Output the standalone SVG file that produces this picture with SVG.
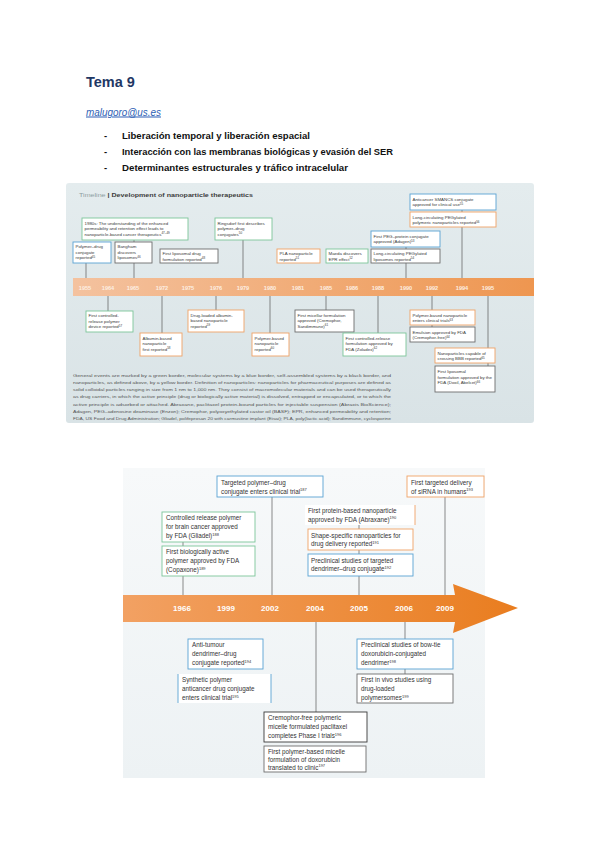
<svg xmlns="http://www.w3.org/2000/svg" width="599" height="848" viewBox="0 0 599 848">
<defs>
<linearGradient id="bg1" x1="0" y1="0" x2="0" y2="1"><stop offset="0" stop-color="#e4ecee"/><stop offset="1" stop-color="#d9e3e6"/></linearGradient>
<linearGradient id="bar1" x1="0" y1="0" x2="1" y2="0"><stop offset="0" stop-color="#f4c29f"/><stop offset="1" stop-color="#ee9650"/></linearGradient>
<linearGradient id="bg2" x1="0" y1="0" x2="0" y2="1"><stop offset="0" stop-color="#f7f9fa"/><stop offset="1" stop-color="#edf2f4"/></linearGradient>
<linearGradient id="bar2" x1="0" y1="0" x2="1" y2="0"><stop offset="0" stop-color="#f2a163"/><stop offset="1" stop-color="#e97d1f"/></linearGradient>
</defs>
<style>
.f{font-family:'Liberation Sans',Arial,sans-serif}
.box{fill:#fff;stroke-width:0.9}
.blue{stroke:#5aa3d3}
.green{stroke:#7cc59a}
.orange{stroke:#f0a266}
.gray{stroke:#6e6e6e}
.dark{stroke:#3a3a3a}
.t1{font-family:'Liberation Sans',Arial,sans-serif;font-size:4.4px;fill:#3a3a3a}
.t2{font-family:'Liberation Sans',Arial,sans-serif;font-size:6.3px;fill:#333}
.y1{font-family:'Liberation Sans',Arial,sans-serif;font-size:5.6px;font-weight:bold;fill:#fdeee2;text-anchor:middle}
.y2{font-family:'Liberation Sans',Arial,sans-serif;font-size:8px;font-weight:bold;fill:#fff;text-anchor:middle}
.cap{font-family:'Liberation Sans',Arial,sans-serif;font-size:4.3px;fill:#555}
.conn line{stroke:#5a5a5a;stroke-width:0.7}
.hd{font-family:'Liberation Sans',Arial,sans-serif;font-weight:bold;font-size:9.5px;fill:#111}
</style>
<rect width="599" height="848" fill="#fff"/>

<g id="header">
<text class="f" x="86" y="87" font-size="14.5" font-weight="bold" fill="#1f3864">Tema 9</text>
<text class="f" x="86" y="115.5" font-size="10" font-style="italic" fill="#2e5fb5" text-decoration="underline" textLength="75" lengthAdjust="spacingAndGlyphs">malugoro@us.es</text>
<text class="hd" x="104" y="138.5">-</text>
<text class="hd" x="122" y="138.5" textLength="188" lengthAdjust="spacingAndGlyphs">Liberación temporal y liberación espacial</text>
<text class="hd" x="104" y="154.5">-</text>
<text class="hd" x="122" y="154.5" textLength="271" lengthAdjust="spacingAndGlyphs">Interacción con las membranas biológicas y evasión del SER</text>
<text class="hd" x="104" y="170.5">-</text>
<text class="hd" x="122" y="170.5" textLength="226" lengthAdjust="spacingAndGlyphs">Determinantes estructurales y tráfico intracelular</text>
</g>

<g id="figure1">
<rect x="66" y="183" width="468" height="240" rx="3" fill="url(#bg1)"/>
<text class="f" x="79" y="197" font-size="6" textLength="174" lengthAdjust="spacingAndGlyphs"><tspan fill="#8c9ca2">Timeline</tspan><tspan fill="#3c3c3c" font-weight="bold"> | Development of nanoparticle therapeutics</tspan></text>
<rect x="73" y="278" width="461" height="18" fill="url(#bar1)"/>
<g id="years1">
<text class="y1" x="85" y="289.5">1955</text>
<text class="y1" x="108" y="289.5">1964</text>
<text class="y1" x="133" y="289.5">1965</text>
<text class="y1" x="162" y="289.5">1972</text>
<text class="y1" x="188" y="289.5">1975</text>
<text class="y1" x="216" y="289.5">1976</text>
<text class="y1" x="243" y="289.5">1979</text>
<text class="y1" x="270" y="289.5">1980</text>
<text class="y1" x="298" y="289.5">1981</text>
<text class="y1" x="326" y="289.5">1985</text>
<text class="y1" x="352" y="289.5">1986</text>
<text class="y1" x="378" y="289.5">1988</text>
<text class="y1" x="406" y="289.5">1990</text>
<text class="y1" x="432" y="289.5">1992</text>
<text class="y1" x="462" y="289.5">1994</text>
<text class="y1" x="488" y="289.5">1995</text>
</g>

<g class="conn" id="connectors1">
<line x1="86" y1="263" x2="86" y2="278"/>
<line x1="134" y1="240" x2="134" y2="242"/>
<line x1="134" y1="263" x2="134" y2="278"/>
<line x1="243" y1="240" x2="243" y2="278"/>
<line x1="406" y1="247" x2="406" y2="249"/>
<line x1="406" y1="263" x2="406" y2="278"/>
<line x1="462" y1="210" x2="462" y2="212"/>
<line x1="462" y1="227" x2="462" y2="278"/>
<line x1="108" y1="296" x2="108" y2="311"/>
<line x1="162" y1="296" x2="162" y2="333"/>
<line x1="216" y1="296" x2="216" y2="310"/>
<line x1="270" y1="296" x2="270" y2="333"/>
<line x1="326" y1="296" x2="326" y2="310"/>
<line x1="378" y1="296" x2="378" y2="333"/>
<line x1="432" y1="296" x2="432" y2="310"/>
<line x1="432" y1="325" x2="432" y2="327"/>
<line x1="488" y1="296" x2="488" y2="348"/>
<line x1="488" y1="363" x2="488" y2="366"/>
</g>

<g id="n1955"><rect class="box blue" x="73" y="242" width="38" height="21"/>
<text class="t1" x="75.5" y="248">Polymer–drug</text><text class="t1" x="75.5" y="253.5">conjugate</text><text class="t1" x="75.5" y="259">reported<tspan font-size="3" dy="-1.5">45</tspan></text></g>
<g id="n1980s"><rect class="box green" x="82" y="218" width="106" height="22"/>
<text class="t1" x="84.5" y="224.5">1980s: The understanding of the enhanced</text><text class="t1" x="84.5" y="230">permeability and retention effect leads to</text><text class="t1" x="84.5" y="235.5">nanoparticle-based cancer therapeutics<tspan font-size="3" dy="-1.5">47–49</tspan></text></g>
<g id="n1965"><rect class="box gray" x="115" y="242" width="37" height="21"/>
<text class="t1" x="117.5" y="248">Bangham</text><text class="t1" x="117.5" y="253.5">discovers</text><text class="t1" x="117.5" y="259">liposomes<tspan font-size="3" dy="-1.5">46</tspan></text></g>
<g id="n1975a"><rect class="box gray" x="160" y="249" width="58" height="14"/>
<text class="t1" x="162.5" y="255">First liposomal drug</text><text class="t1" x="162.5" y="260.5">formulation reported<tspan font-size="3" dy="-1.5">48</tspan></text></g>
<g id="n1979"><rect class="box green" x="215" y="218" width="57" height="22"/>
<text class="t1" x="217.5" y="224.5">Ringsdorf first describes</text><text class="t1" x="217.5" y="230">polymer–drug</text><text class="t1" x="217.5" y="235.5">conjugates<tspan font-size="3" dy="-1.5">50</tspan></text></g>
<g id="n1981"><rect class="box orange" x="277" y="249" width="43" height="14"/>
<text class="t1" x="279.5" y="255">PLA nanoparticle</text><text class="t1" x="279.5" y="260.5">reported<tspan font-size="3" dy="-1.5">51</tspan></text></g>
<g id="n1986"><rect class="box green" x="326" y="249" width="42" height="14"/>
<text class="t1" x="328.5" y="255">Maeda discovers</text><text class="t1" x="328.5" y="260.5">EPR effect<tspan font-size="3" dy="-1.5">52</tspan></text></g>
<g id="n1990a"><rect class="box blue" x="371" y="231" width="69" height="16"/>
<text class="t1" x="373.5" y="237.5">First PEG–protein conjugate</text><text class="t1" x="373.5" y="243">approved (Adagen)<tspan font-size="3" dy="-1.5">53</tspan></text></g>
<g id="n1990b"><rect class="box gray" x="371" y="249" width="69" height="14"/>
<text class="t1" x="373.5" y="255">Long-circulating PEGylated</text><text class="t1" x="373.5" y="260.5">liposomes reported<tspan font-size="3" dy="-1.5">54</tspan></text></g>
<g id="n1994a"><rect class="box blue" x="410" y="194" width="86" height="16"/>
<text class="t1" x="412.5" y="200.5">Anticancer SMANCS conjugate</text><text class="t1" x="412.5" y="206">approved for clinical use<tspan font-size="3" dy="-1.5">55</tspan></text></g>
<g id="n1994b"><rect class="box orange" x="410" y="212" width="86" height="15"/>
<text class="t1" x="412.5" y="218.5">Long-circulating PEGylated</text><text class="t1" x="412.5" y="224">polymeric nanoparticles reported<tspan font-size="3" dy="-1.5">56</tspan></text></g>

<g id="n1964"><rect class="box green" x="86" y="311" width="47" height="21"/>
<text class="t1" x="88.5" y="317">First controlled-</text><text class="t1" x="88.5" y="322.5">release polymer</text><text class="t1" x="88.5" y="328">device reported<tspan font-size="3" dy="-1.5">57</tspan></text></g>
<g id="n1972"><rect class="box orange" x="140" y="333" width="42" height="23"/>
<text class="t1" x="142.5" y="339.5">Albumin-based</text><text class="t1" x="142.5" y="345">nanoparticle</text><text class="t1" x="142.5" y="350.5">first reported<tspan font-size="3" dy="-1.5">58</tspan></text></g>
<g id="n1976"><rect class="box orange" x="188" y="310" width="56" height="22"/>
<text class="t1" x="190.5" y="316.5">Drug-loaded albumin-</text><text class="t1" x="190.5" y="322">based nanoparticle</text><text class="t1" x="190.5" y="327.5">reported<tspan font-size="3" dy="-1.5">59</tspan></text></g>
<g id="n1980"><rect class="box orange" x="252" y="333" width="37" height="23"/>
<text class="t1" x="254.5" y="339.5">Polymer-based</text><text class="t1" x="254.5" y="345">nanoparticle</text><text class="t1" x="254.5" y="350.5">reported<tspan font-size="3" dy="-1.5">60</tspan></text></g>
<g id="n1985"><rect class="box gray" x="295" y="310" width="59" height="22"/>
<text class="t1" x="297.5" y="316.5">First micellar formulation</text><text class="t1" x="297.5" y="322">approved (Cremophor,</text><text class="t1" x="297.5" y="327.5">Sandimmune)<tspan font-size="3" dy="-1.5">61</tspan></text></g>
<g id="n1988"><rect class="box green" x="343" y="333" width="63" height="23"/>
<text class="t1" x="345.5" y="339.5">First controlled-release</text><text class="t1" x="345.5" y="345">formulation approved by</text><text class="t1" x="345.5" y="350.5">FDA (Zoladex)<tspan font-size="3" dy="-1.5">62</tspan></text></g>
<g id="n1992a"><rect class="box orange" x="410" y="310" width="65" height="15"/>
<text class="t1" x="412.5" y="316.5">Polymer-based nanoparticle</text><text class="t1" x="412.5" y="322">enters clinical trials<tspan font-size="3" dy="-1.5">63</tspan></text></g>
<g id="n1992b"><rect class="box gray" x="410" y="327" width="65" height="15"/>
<text class="t1" x="412.5" y="333.5">Emulsion approved by FDA</text><text class="t1" x="412.5" y="339">(Cremophor-free)<tspan font-size="3" dy="-1.5">64</tspan></text></g>
<g id="n1995a"><rect class="box orange" x="435" y="348" width="60" height="15"/>
<text class="t1" x="437.5" y="354.5">Nanoparticles capable of</text><text class="t1" x="437.5" y="360">crossing BBB reported<tspan font-size="3" dy="-1.5">65</tspan></text></g>
<g id="n1995b"><rect class="box gray" x="435" y="366" width="60" height="26"/>
<text class="t1" x="437.5" y="373">First liposomal</text><text class="t1" x="437.5" y="378.5">formulation approved by the</text><text class="t1" x="437.5" y="384">FDA (Doxil, Abelcet)<tspan font-size="3" dy="-1.5">66</tspan></text></g>

<g id="caption1">
<text class="cap" x="73" y="377" textLength="318" lengthAdjust="spacingAndGlyphs">General events are marked by a green border, molecular systems by a blue border, self-assembled systems by a black border, and</text>
<text class="cap" x="73" y="384" textLength="318" lengthAdjust="spacingAndGlyphs">nanoparticles, as defined above, by a yellow border. Definition of nanoparticles: nanoparticles for pharmaceutical purposes are defined as</text>
<text class="cap" x="73" y="391" textLength="318" lengthAdjust="spacingAndGlyphs">solid colloidal particles ranging in size from 1 nm to 1,000 nm. They consist of macromolecular materials and can be used therapeutically</text>
<text class="cap" x="73" y="398" textLength="318" lengthAdjust="spacingAndGlyphs">as drug carriers, in which the active principle (drug or biologically active material) is dissolved, entrapped or encapsulated, or to which the</text>
<text class="cap" x="73" y="405.5" textLength="318" lengthAdjust="spacingAndGlyphs">active principle is adsorbed or attached. Abraxane, paclitaxel protein-bound particles for injectable suspension (Abraxis BioScience);</text>
<text class="cap" x="73" y="412.5" textLength="318" lengthAdjust="spacingAndGlyphs">Adagen, PEG–adenosine deaminase (Enzon); Cremophor, polyoxyethylated castor oil (BASF); EPR, enhanced permeability and retention;</text>
<text class="cap" x="73" y="419.5" textLength="318" lengthAdjust="spacingAndGlyphs">FDA, US Food and Drug Administration; Gliadel, polifeprosan 20 with carmustine implant (Eisai); PLA, poly(lactic acid); Sandimmune, cyclosporine</text>
</g>
</g>

<g id="figure2">
<rect x="123" y="468" width="362" height="310" fill="url(#bg2)"/>
<path d="M123,595 L455,595 L453,584 L518,608 L453,633 L455,622 L123,622 Z" fill="url(#bar2)"/>
<g id="years2">
<text class="y2" x="182" y="611">1966</text>
<text class="y2" x="226" y="611">1999</text>
<text class="y2" x="270" y="611">2002</text>
<text class="y2" x="315" y="611">2004</text>
<text class="y2" x="359" y="611">2005</text>
<text class="y2" x="404" y="611">2006</text>
<text class="y2" x="445" y="611">2009</text>
</g>

<g class="conn" id="connectors2">
<line x1="272" y1="497" x2="272" y2="595"/>
<line x1="183" y1="542" x2="183" y2="546"/>
<line x1="183" y1="576" x2="183" y2="595"/>
<line x1="359" y1="525" x2="359" y2="529"/>
<line x1="359" y1="550" x2="359" y2="554"/>
<line x1="359" y1="576" x2="359" y2="595"/>
<line x1="445" y1="497" x2="445" y2="595"/>
<line x1="316" y1="622" x2="316" y2="712"/>
<line x1="405" y1="622" x2="405" y2="639"/>
<line x1="405" y1="669" x2="405" y2="674"/>
</g>

<g id="m2002"><rect class="box blue" x="217" y="476" width="106" height="21"/>
<text class="t2" x="221" y="485">Targeted polymer–drug</text><text class="t2" x="221" y="493.5">conjugate enters clinical trial<tspan font-size="4" dy="-2.5">187</tspan></text></g>
<g id="m1996a"><rect class="box green" x="162" y="512" width="93" height="30"/>
<text class="t2" x="166" y="520">Controlled release polymer</text><text class="t2" x="166" y="529">for brain cancer approved</text><text class="t2" x="166" y="538">by FDA (Gliadel)<tspan font-size="4" dy="-2.5">188</tspan></text></g>
<g id="m1996b"><rect class="box green" x="162" y="546" width="93" height="30"/>
<text class="t2" x="166" y="554">First biologically active</text><text class="t2" x="166" y="563">polymer approved by FDA</text><text class="t2" x="166" y="572">(Copaxone)<tspan font-size="4" dy="-2.5">189</tspan></text></g>
<g id="m2005a"><rect x="305" y="505" width="110" height="20" fill="#fff"/><line x1="415" y1="505" x2="415" y2="525" stroke="#f0a266" stroke-width="0.9"/>
<text class="t2" x="308" y="513">First protein-based nanoparticle</text><text class="t2" x="308" y="521.5">approved by FDA (Abraxane)<tspan font-size="4" dy="-2.5">190</tspan></text></g>
<g id="m2005b"><rect class="box orange" x="308" y="529" width="105" height="21"/>
<text class="t2" x="311" y="537.5">Shape-specific nanoparticles for</text><text class="t2" x="311" y="546">drug delivery reported<tspan font-size="4" dy="-2.5">191</tspan></text></g>
<g id="m2005c"><rect class="box blue" x="308" y="554" width="105" height="22"/>
<text class="t2" x="311" y="562.5">Preclinical studies of targeted</text><text class="t2" x="311" y="571">dendrimer–drug conjugate<tspan font-size="4" dy="-2.5">192</tspan></text></g>
<g id="m2009"><rect class="box orange" x="407" y="476" width="77" height="21"/>
<text class="t2" x="411" y="485">First targeted delivery</text><text class="t2" x="411" y="493.5">of siRNA in humans<tspan font-size="4" dy="-2.5">193</tspan></text></g>

<g id="m1999"><rect class="box blue" x="188" y="639" width="75" height="30"/>
<text class="t2" x="192" y="647">Anti-tumour</text><text class="t2" x="192" y="656">dendrimer–drug</text><text class="t2" x="192" y="665">conjugate reported<tspan font-size="4" dy="-2.5">194</tspan></text></g>
<g id="m1999b"><rect x="178" y="674" width="93" height="29" fill="#fff"/><line x1="178" y1="674" x2="178" y2="703" stroke="#5aa3d3" stroke-width="0.9"/><line x1="271" y1="674" x2="271" y2="703" stroke="#5aa3d3" stroke-width="0.9"/>
<text class="t2" x="182" y="682">Synthetic polymer</text><text class="t2" x="182" y="691">anticancer drug conjugate</text><text class="t2" x="182" y="700">enters clinical trial<tspan font-size="4" dy="-2.5">195</tspan></text></g>
<g id="m2004a"><rect class="box dark" x="264" y="712" width="103" height="30"/>
<text class="t2" x="268" y="720">Cremophor-free polymeric</text><text class="t2" x="268" y="729">micelle formulated paclitaxel</text><text class="t2" x="268" y="738">completes Phase I trials<tspan font-size="4" dy="-2.5">196</tspan></text></g>
<g id="m2004b"><rect class="box gray" x="264" y="746" width="102" height="26" stroke="#9a9a9a"/>
<text class="t2" x="268" y="753.5">First polymer-based micelle</text><text class="t2" x="268" y="761.5">formulation of doxorubicin</text><text class="t2" x="268" y="769.5">translated to clinic<tspan font-size="4" dy="-2.5">197</tspan></text></g>
<g id="m2006a"><rect class="box blue" x="357" y="639" width="96" height="30"/>
<text class="t2" x="361" y="647">Preclinical studies of bow-tie</text><text class="t2" x="361" y="656">doxorubicin-conjugated</text><text class="t2" x="361" y="665">dendrimer<tspan font-size="4" dy="-2.5">198</tspan></text></g>
<g id="m2006b"><rect class="box gray" x="357" y="674" width="96" height="29"/>
<text class="t2" x="361" y="682">First in vivo studies using</text><text class="t2" x="361" y="691">drug-loaded</text><text class="t2" x="361" y="700">polymersomes<tspan font-size="4" dy="-2.5">199</tspan></text></g>
</g>
</svg>
